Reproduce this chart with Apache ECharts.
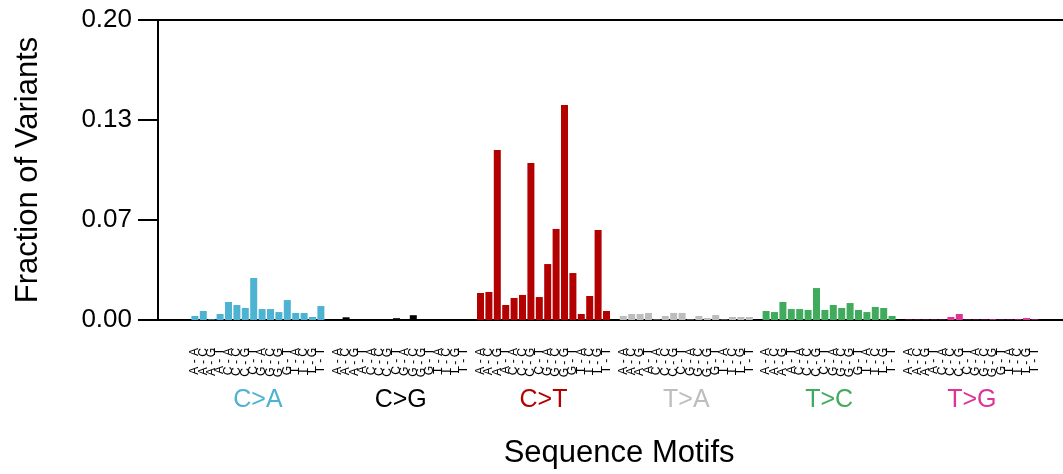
<!DOCTYPE html>
<html><head><meta charset="utf-8">
<script src="https://cdn.jsdelivr.net/npm/echarts@6/dist/echarts.min.js"></script>
<style>html,body{margin:0;padding:0;background:#fff}#c{width:1063px;height:474px}</style>
</head><body><div id="c"></div>
<script>
const groups = ['C>A', 'C>G', 'C>T', 'T>A', 'T>C', 'T>G'];
const groupColors = ['#4EB3D3', '#000000', '#B30000', '#BDBDBD', '#41AB5D', '#DD3497'];
const bases = ['A', 'C', 'G', 'T'];
const yTicks = [0, 0.2 / 3, 0.4 / 3, 0.2];

const caValues = [0.0027, 0.0060, 0.0004, 0.0040, 0.0120, 0.0100, 0.0080, 0.0280, 0.0073, 0.0073, 0.0053, 0.0133, 0.0047, 0.0047, 0.0020, 0.0093];
const cgValues = [0.0004, 0.0018, 0.0006, 0.0005, 0.0003, 0.0006, 0.0004, 0.0012, 0.0005, 0.0032, 0.0006, 0.0004, 0.0005, 0.0003, 0.0004, 0.0005];
const ctValues = [0.0180, 0.0187, 0.1133, 0.0100, 0.0147, 0.0167, 0.1047, 0.0153, 0.0373, 0.0607, 0.1433, 0.0313, 0.0040, 0.0160, 0.0600, 0.0060];
const taValues = [0.0027, 0.0040, 0.0040, 0.0047, 0.0003, 0.0027, 0.0047, 0.0047, 0.0003, 0.0027, 0.0013, 0.0033, 0.0003, 0.0020, 0.0020, 0.0020];
const tcValues = [0.0060, 0.0053, 0.0120, 0.0073, 0.0073, 0.0067, 0.0213, 0.0067, 0.0100, 0.0080, 0.0113, 0.0067, 0.0053, 0.0087, 0.0080, 0.0027];
const tgValues = [0.0002, 0.0002, 0.0002, 0.0002, 0.0002, 0.0020, 0.0040, 0.0002, 0.0002, 0.0002, 0.0005, 0.0002, 0.0002, 0.0004, 0.0013, 0.0004];

const groupValues = [caValues, cgValues, ctValues, taValues, tcValues, tgValues];

const cats = [];
const barData = [];
groupValues.forEach((vals, g) => {
  vals.forEach((v, k) => {
    cats.push(bases[k >> 2] + ' - ' + bases[k & 3]);
    barData.push({ value: v, itemStyle: { color: groupColors[g] } });
  });
  cats.push('');
  barData.push('-');
});

const slot = 8.4;
const g0left = 194.9 - slot / 2;
const g0width = cats.length * slot;
const gridTop = 20, gridBottom = 154;

const chart = echarts.init(document.getElementById('c'), null, { renderer: 'canvas' });
const font = 'Liberation Sans, Arial, sans-serif';
chart.setOption({
  animation: false,
  textStyle: { fontFamily: font },
  grid: [
    { left: g0left, width: g0width, top: gridTop, bottom: gridBottom, containLabel: false, outerBoundsMode: 'none' },
    { left: 158, right: 0, top: gridTop, bottom: gridBottom, containLabel: false, outerBoundsMode: 'none' },
    { left: g0left - slot / 2, width: 6 * 17 * slot, top: gridTop, bottom: gridBottom, containLabel: false, outerBoundsMode: 'none' }
  ],
  xAxis: [
    {
      gridIndex: 0, type: 'category', data: cats,
      axisLine: { show: false }, axisTick: { show: false },
      axisLabel: { interval: 0, rotate: 90, fontSize: 12, margin: 28, color: '#000', fontFamily: font },
      name: 'Sequence Motifs', nameLocation: 'middle', nameGap: 118,
      nameTextStyle: { fontSize: 31, color: '#000', fontFamily: font }
    },
    {
      gridIndex: 1, type: 'value', min: 0, max: 1, position: 'bottom',
      axisLine: { show: true, lineStyle: { color: '#000', width: 2 } },
      axisTick: { show: false }, axisLabel: { show: false }, splitLine: { show: false }
    },
    {
      gridIndex: 1, type: 'value', min: 0, max: 1, position: 'top',
      axisLine: { show: true, lineStyle: { color: '#000', width: 2 } },
      axisTick: { show: false }, axisLabel: { show: false }, splitLine: { show: false }
    },
    {
      gridIndex: 2, type: 'category', data: groups,
      axisLine: { show: false }, axisTick: { show: false },
      axisLabel: { interval: 0, fontSize: 25, margin: 68, fontFamily: font,
        color: (val, idx) => groupColors[groups.indexOf(val)] }
    }
  ],
  yAxis: [
    {
      gridIndex: 0, type: 'value', min: yTicks[0], max: yTicks[3], interval: 0.2 / 3,
      offset: g0left - 158,
      axisLine: { show: true, lineStyle: { color: '#000', width: 2 } },
      axisTick: { show: true, length: 20, lineStyle: { color: '#000', width: 2 } },
      axisLabel: { formatter: v => v.toFixed(2), fontSize: 26, margin: 26, color: '#000', fontFamily: font },
      splitLine: { show: false },
      name: 'Fraction of Variants', nameLocation: 'middle', nameGap: 114,
      nameTextStyle: { fontSize: 31, color: '#000', fontFamily: font }
    },
    { gridIndex: 1, type: 'value', show: false, min: 0, max: 1 },
    { gridIndex: 2, type: 'value', show: false, min: 0, max: 1 }
  ],
  series: [
    {
      type: 'bar', xAxisIndex: 0, yAxisIndex: 0, data: barData, barWidth: 7, z: 1
    }
  ]
});
</script>
</body></html>
